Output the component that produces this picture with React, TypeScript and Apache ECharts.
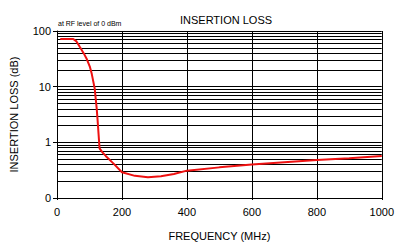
import React, { useEffect, useRef } from "react";
import * as echarts from "echarts";

const freq = [10, 50, 60, 70, 82, 92, 101, 107, 116, 122, 125, 128, 131, 140, 150, 175, 200, 240, 280, 320, 360, 400, 500, 600, 700, 800, 900, 1000];
const loss = [72, 72, 65, 52, 40, 31, 23, 17, 9.3, 4.2, 2.5, 1.4, 0.78, 0.66, 0.57, 0.41, 0.29, 0.25, 0.235, 0.245, 0.27, 0.31, 0.355, 0.4, 0.44, 0.48, 0.52, 0.57];
const minorGrid = [0.2, 0.3, 0.4, 0.5, 0.6, 0.7, 0.8, 0.9, 2, 3, 4, 5, 6, 7, 8, 9, 20, 30, 40, 50, 60, 70, 80, 90];

export default function App() {
  const ref = useRef<HTMLDivElement>(null);
  useEffect(() => {
    const chart = echarts.init(ref.current!, null, { renderer: "svg" });
    const font = "Liberation Sans, Arial, sans-serif";
    chart.setOption({
      animation: false,
      backgroundColor: "#fff",
      title: [
        { text: "INSERTION LOSS", left: 221, top: 9, textAlign: "center", textStyle: { fontSize: 11, fontWeight: "normal", color: "#000", fontFamily: font } },
      ],
      graphic: [
        { type: "text", left: 58, top: 20, style: { text: "at RF level of 0 dBm", fontSize: 7, fill: "#000", fontFamily: font } },
      ],
      grid: { left: 57, right: 13, top: 31, bottom: 44 },
      xAxis: {
        type: "value",
        min: 0,
        max: 1000,
        interval: 200,
        name: "FREQUENCY (MHz)",
        nameLocation: "middle",
        nameGap: 32,
        nameTextStyle: { fontSize: 11, color: "#000", fontFamily: font },
        axisLine: { lineStyle: { color: "#000", width: 1 } },
        axisTick: { show: true, length: 2, lineStyle: { color: "#000" } },
        axisLabel: { fontSize: 11, color: "#000", fontFamily: font, margin: 8, formatter: (v: number) => String(v) },
        splitLine: { show: true, lineStyle: { color: "#000", width: 1 } },
      },
      yAxis: {
        type: "log",
        logBase: 10,
        min: 0.1,
        max: 100,
        name: "INSERTION LOSS (dB)",
        nameLocation: "middle",
        nameGap: 38,
        nameTextStyle: { fontSize: 11, color: "#000", fontFamily: font },
        axisLine: { show: true, lineStyle: { color: "#000", width: 1 } },
        axisTick: { show: true, length: 4, lineStyle: { color: "#000" } },
        axisLabel: {
          fontSize: 11,
          color: "#000",
          fontFamily: font,
          margin: 6,
          formatter: (v: number) => (v < 0.5 ? "0" : String(Math.round(v))),
        },
        splitLine: { show: true, lineStyle: { color: "#000", width: 1 } },
      },
      series: [
        {
          type: "line",
          data: freq.map((f, i) => [f, loss[i]]),
          showSymbol: false,
          lineStyle: { color: "#ee1111", width: 2 },
          z: 5,
          markLine: {
            silent: true,
            symbol: "none",
            label: { show: false },
            lineStyle: { color: "#000", width: 1, type: "solid" },
            data: minorGrid.map((v) => ({ yAxis: v })),
            z: 1,
          },
        },
      ],
    });
    return () => chart.dispose();
  }, []);
  return <div ref={ref} style={{ position: "fixed", left: 0, top: 0, width: 397, height: 246 }} />;
}
